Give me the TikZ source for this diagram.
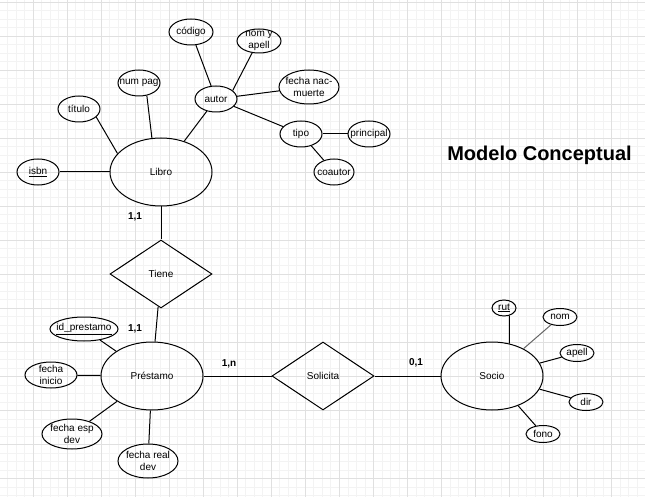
\documentclass[tikz,border=0pt]{standalone}
\usepackage{fontspec}
\setmainfont{Liberation Sans}
\usetikzlibrary{shapes.geometric}
\definecolor{gridminor}{HTML}{F3F3F3}
\definecolor{gridmajor}{HTML}{E0E0E0}
\tikzset{
    entity/.style = {ellipse, draw=black, line width=1pt, minimum width=102pt, minimum height=68pt, inner sep=0pt, text centered, font=\fontsize{10}{12}\selectfont},
    attribute/.style = {ellipse, draw=black, line width=1pt, minimum width=42pt, minimum height=26pt, inner xsep=-5pt, inner ysep=-3pt, align=center, font=\fontsize{10}{12.5}\selectfont},
    smallattr/.style = {attribute, minimum width=34pt, minimum height=17pt},
    relation/.style = {diamond, draw=black, line width=1pt, minimum width=102pt, minimum height=68pt, inner sep=0pt, text centered, font=\fontsize{10}{12}\selectfont},
    card/.style = {font=\bfseries\fontsize{10}{12}\selectfont},
    link/.style = {line width=1pt}
}

\begin{document}
\begin{tikzpicture}[x=1pt, y=-1pt]
\useasboundingbox (0,0) rectangle (645,497);
\fill[white] (0,0) rectangle (645,497);
\foreach \i in {0,...,76} \draw[gridminor, line width=0.8pt] ({-1+8.51*\i},0) -- ({-1+8.51*\i},497);
\foreach \i in {0,...,58} \draw[gridminor, line width=0.8pt] (0,{2+8.51*\i}) -- (645,{2+8.51*\i});
\foreach \i in {0,...,19} \draw[gridmajor, line width=0.8pt] ({-1+34.04*\i},0) -- ({-1+34.04*\i},497);
\foreach \i in {0,...,14} \draw[gridmajor, line width=0.8pt] (0,{2+34.04*\i}) -- (645,{2+34.04*\i});

\node (title) at (539.5,155) [font=\bfseries\fontsize{20}{24}\selectfont] {Modelo Conceptual};

\node (libro) [entity] at (161,172) {Libro};
\node (isbn) [attribute] at (38,172) {\underline{isbn}};
\node (titulo) [attribute] at (79,109) {título};
\node (numpag) [attribute] at (139,83) {num pag};
\node (autor) [attribute] at (216,99) {autor};
\node (codigo) [attribute, minimum width=44pt] at (191,32) {código};
\node (nomapell) [attribute, minimum width=44pt, minimum height=24pt] at (259,41) {nom y\\apell};
\node (fechanac) [attribute, minimum width=60pt, minimum height=34pt] at (309,87) {fecha nac-\\muerte};
\node (tipo) [attribute] at (301,134) {tipo};
\node (principal) [attribute] at (369,134) {principal};
\node (coautor) [attribute, minimum width=40pt] at (334,172) {coautor};

\node (tiene) [relation] at (161,274) {Tiene};

\node (prestamo) [entity] at (152,376) {Préstamo};
\node (idprestamo) [attribute, minimum width=68pt, minimum height=24pt] at (84,329) {\underline{id\_prestamo}};
\node (fechaini) [attribute, minimum width=52pt] at (51,375) {fecha\\inicio};
\node (fechaesp) [attribute, minimum width=60pt, minimum height=30pt] at (72,434) {fecha esp\\dev};
\node (fechareal) [attribute, minimum width=60pt, minimum height=34pt] at (148,461) {fecha real\\dev};

\node (solicita) [relation] at (323,376) {Solicita};

\node (socio) [entity] at (492,376) {Socio};
\node (rut) [smallattr, minimum width=24pt, minimum height=16pt] at (504,308) {\underline{rut}};
\node (nom) [smallattr] at (560,317) {nom};
\node (apell) [smallattr] at (577,353) {apell};
\node (dir) [smallattr] at (586,402) {dir};
\node (fono) [smallattr] at (543,434) {fono};

\node (c1) [card] at (135,217) {1,1};
\node (c2) [card] at (135,329) {1,1};
\node (c3) [card] at (229,364) {1,n};
\node (c4) [card] at (416,363) {0,1};

\draw [link] (isbn) -- (libro);
\draw [link] (titulo.335) -- (libro.157);
\draw [link] (numpag.302) -- (libro.105);
\draw [link] (libro) -- (autor);
\draw [link] (codigo) -- (autor);
\draw [link] (nomapell.240) -- (autor.27);
\draw [link] (autor) -- (fechanac);
\draw [link] (autor) -- (tipo);
\draw [link] (tipo) -- (principal);
\draw [link] (tipo) -- (coautor);
\draw [link] (libro) -- (tiene);
\draw [link] (tiene) -- (prestamo);
\draw [link] (idprestamo) -- (prestamo);
\draw [link] (fechaini) -- (prestamo);
\draw [link] (fechaesp) -- (prestamo);
\draw [link] (fechareal) -- (prestamo);
\draw [link] (prestamo) -- (solicita);
\draw [link] (solicita) -- (socio);
\draw [link] (rut.305) -- (socio.62);
\draw [link, black!60] (nom) -- (socio);
\draw [link] (apell) -- (socio);
\draw [link] (dir) -- (socio);
\draw [link] (fono) -- (socio);
\end{tikzpicture}
\end{document}
